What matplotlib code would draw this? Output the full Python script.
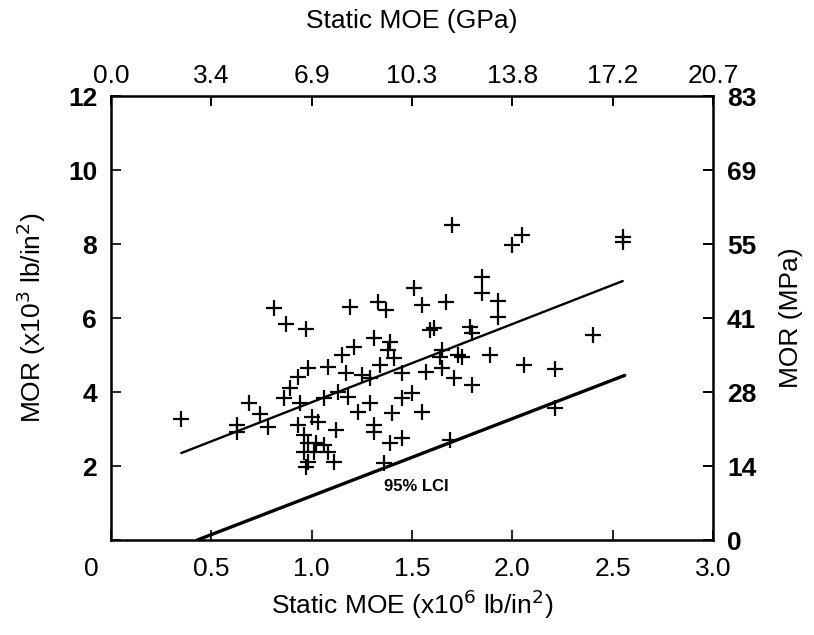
import matplotlib
matplotlib.use("Agg")
import matplotlib.pyplot as plt
import matplotlib.transforms as mtransforms
from matplotlib import font_manager

# --- data ---
moe = [0.35, 0.63, 0.63, 0.69, 0.74, 0.78, 0.81, 0.86, 0.87, 0.89,
       0.93, 0.93, 0.94, 0.96, 0.96, 0.97, 0.97, 0.98, 0.98, 0.98,
       1.00, 1.01, 1.02, 1.03, 1.06, 1.06, 1.08, 1.08, 1.11, 1.12,
       1.13, 1.15, 1.17, 1.18, 1.19, 1.21, 1.23, 1.25, 1.29, 1.29,
       1.31, 1.31, 1.31, 1.33, 1.34, 1.36, 1.37, 1.38, 1.39, 1.39,
       1.40, 1.41, 1.45, 1.45, 1.45, 1.50, 1.51, 1.55, 1.55, 1.57,
       1.59, 1.61, 1.64, 1.65, 1.65, 1.67, 1.69, 1.70, 1.71, 1.73,
       1.75, 1.79, 1.80, 1.80, 1.85, 1.85, 1.89, 1.93, 1.93, 2.00,
       2.05, 2.06, 2.21, 2.21, 2.40, 2.55, 2.55]
mor = [3.28, 3.11, 2.92, 3.70, 3.40, 3.05, 6.27, 3.84, 5.84, 4.11,
       4.41, 3.11, 3.70, 2.84, 2.38, 5.70, 1.97, 4.65, 2.62, 2.11,
       3.32, 2.38, 2.62, 3.19, 3.84, 2.57, 4.68, 2.38, 2.11, 2.97,
       4.00, 5.00, 4.51, 3.87, 6.30, 5.22, 3.46, 4.46, 4.38, 3.70,
       5.46, 3.11, 2.92, 6.43, 4.73, 2.08, 6.22, 5.14, 5.35, 2.62,
       3.43, 4.92, 4.51, 3.84, 2.76, 3.97, 6.81, 6.35, 3.46, 4.54,
       5.68, 5.73, 4.95, 5.14, 4.65, 6.43, 2.70, 8.51, 4.38, 5.00,
       4.95, 5.76, 5.59, 4.19, 7.11, 6.67, 5.00, 6.46, 6.03, 7.97,
       8.24, 4.73, 4.62, 3.57, 5.54, 8.19, 8.05]

# regression line and 95% lower confidence line (end points)
fit_x = [0.35, 2.55]
fit_y = [2.35, 7.00]
lci_x = [0.43, 2.56]
lci_y = [0.00, 4.45]

x_ticks = [0, 0.5, 1.0, 1.5, 2.0, 2.5, 3.0]
x_labels = ["0", "0.5", "1.0", "1.5", "2.0", "2.5", "3.0"]
gpa_labels = ["0.0", "3.4", "6.9", "10.3", "13.8", "17.2", "20.7"]
y_ticks = [0, 2, 4, 6, 8, 10, 12]
y_labels = ["", "2", "4", "6", "8", "10", "12"]
mpa_labels = ["0", "14", "28", "41", "55", "69", "83"]

names = {f.name for f in font_manager.fontManager.ttflist}
FONT = "Liberation Sans Narrow" if "Liberation Sans Narrow" in names else "Liberation Sans"
plt.rcParams["font.family"] = [FONT, "DejaVu Sans"]

fig = plt.figure(figsize=(8.14, 6.35), dpi=100)
ax = fig.add_axes([0.1364, 0.1496, 0.7396, 0.6992])

ax.plot(moe, mor, linestyle="none", marker="+", markersize=11,
        markeredgewidth=1.6, color="black")
ax.plot(fit_x, fit_y, color="black", linewidth=1.7, solid_capstyle="round")
ax.plot(lci_x, lci_y, color="black", linewidth=2.4, solid_capstyle="round")
ax.text(1.52, 1.45, "95% LCI", fontsize=12, fontweight="bold",
        ha="center", va="center")

ax.set_xlim(0, 3.0)
ax.set_ylim(0, 12)
for s in ax.spines.values():
    s.set_linewidth(1.8)

ax.set_xticks(x_ticks)
ax.set_xticklabels(x_labels)
ax.set_yticks(y_ticks)
ax.set_yticklabels(y_labels)
ax.tick_params(direction="in", length=7, width=1.2, labelsize=19, pad=12,
               top=True, right=True)
ax.tick_params(axis="y", pad=10)
for lab in ax.get_yticklabels():
    lab.set_fontweight("bold")
# the "0" under the origin sits a bit left of the corner
ax.get_xticklabels()[0].set_transform(
    ax.get_xticklabels()[0].get_transform()
    + mtransforms.ScaledTranslation(-0.2, 0, fig.dpi_scale_trans))

top = ax.secondary_xaxis("top")
top.set_xticks(x_ticks)
top.set_xticklabels(gpa_labels)
top.tick_params(direction="in", length=7, width=1.2, labelsize=19, pad=6)
top.set_xlabel("Static MOE (GPa)", fontsize=19, labelpad=26)

right = ax.secondary_yaxis("right")
right.set_yticks(y_ticks)
right.set_yticklabels(mpa_labels)
right.tick_params(direction="in", length=7, width=1.2, labelsize=19, pad=10)
for lab in right.get_yticklabels():
    lab.set_fontweight("bold")
right.set_ylabel("MOR (MPa)", fontsize=19, labelpad=16)

ax.set_xlabel("Static MOE (x10$^{6}$ lb/in$^{2}$)", fontsize=19, labelpad=5)
ax.set_ylabel("MOR (x10$^{3}$ lb/in$^{2}$)", fontsize=19, labelpad=14)

fig.savefig("out.png", dpi=100)
